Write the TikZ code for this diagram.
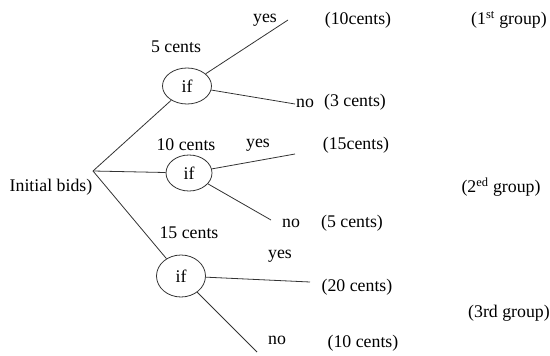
\documentclass[tikz,border=0pt]{standalone}
\usepackage{fontspec}
\setmainfont{Liberation Serif}
\usetikzlibrary{shapes.geometric}
\begin{document}
\begin{tikzpicture}[x=1pt,y=-1pt, font=\fontsize{17.8}{20}\selectfont,
  ifnode/.style={ellipse, draw=black!80, line width=0.8pt, inner sep=0pt},
  branch/.style={draw=black!80, line width=0.8pt},
  lbl/.style={inner sep=0pt, anchor=center}]
\useasboundingbox (0,0) rectangle (550,356);
% decision nodes
\node[ifnode, minimum width=49pt, minimum height=36pt] (e1) at (187,86) {if};
\node[ifnode, minimum width=46pt, minimum height=36pt] (e2) at (189,173) {if};
\node[ifnode, minimum width=49pt, minimum height=42pt] (e3) at (181,276) {if};
% branch points
\coordinate (root) at (93,171);
\coordinate (y1) at (288,20);
\coordinate (n1) at (295,104);
\coordinate (y2) at (295,154);
\coordinate (n2) at (271,220);
\coordinate (y3) at (310,282);
\coordinate (n3) at (257,352);
% connectors
\draw[branch] (root) -- (e1);
\draw[branch] (root) -- (e2);
\draw[branch] (root) -- (e3);
\draw[branch] (e1) -- (y1);
\draw[branch] (e1) -- (n1);
\draw[branch] (e2) -- (y2);
\draw[branch] (e2) -- (n2);
\draw[branch] (e3) -- (y3);
\draw[branch] (e3) -- (n3);
% labels
\node[lbl] (init) at (51,187) {Initial bids)};
\node[lbl] (c5) at (176,47) {5 cents};
\node[lbl] (c10) at (186,145) {10 cents};
\node[lbl] (c15) at (189,233) {15 cents};
\node[lbl] (yes1) at (265,20) {yes};
\node[lbl] (no1) at (305,103) {no};
\node[lbl] (yes2) at (258,145) {yes};
\node[lbl] (no2) at (291,223) {no};
\node[lbl] (yes3) at (280,256) {yes};
\node[lbl] (no3) at (277,340) {no};
\node[lbl] (r10) at (358,20) {(10cents)};
\node[lbl] (r3) at (355,102) {(3 cents)};
\node[lbl] (r15) at (356,145) {(15cents)};
\node[lbl] (r5) at (352,223) {(5 cents)};
\node[lbl] (r20) at (357,287) {(20 cents)};
\node[lbl] (r10b) at (363,343) {(10 cents)};
\node[lbl] (g1) at (509,20) {(1\textsuperscript{st} group)};
\node[lbl] (g2) at (501,187) {(2\textsuperscript{ed} group)};
\node[lbl] (g3) at (509,313) {(3rd group)};
\end{tikzpicture}
\end{document}
